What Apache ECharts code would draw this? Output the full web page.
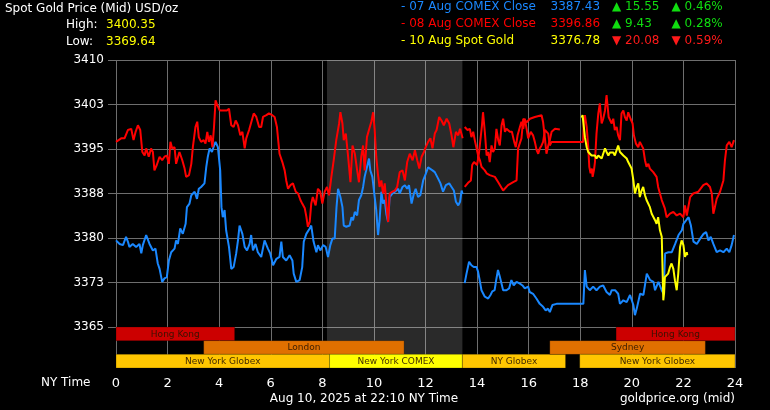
<!DOCTYPE html>
<html><head><meta charset="utf-8">
<script src="https://cdn.jsdelivr.net/npm/echarts@6/dist/echarts.min.js"></script>
<style>html,body{margin:0;padding:0;background:#000}#c{width:770px;height:410px}</style>
</head><body><div id="c"></div>
<script>
// ---------- data ----------
const xTicks = [0,2,4,6,8,10,12,14,16,18,20,22,24];
const yTicks = [3365,3372.5,3380,3387.5,3395,3402.5,3410];

const blue07a = [[0,3379.6],[0.14,3379.0],[0.27,3378.8],[0.39,3380.2],[0.46,3379.4],[0.52,3378.5],[0.65,3379.0],[0.78,3378.5],[0.91,3379.0],[0.98,3377.4],[1.04,3378.8],[1.17,3380.5],[1.30,3379.0],[1.43,3377.9],[1.53,3378.2],[1.62,3375.7],[1.69,3374.8],[1.79,3372.6],[1.88,3373.2],[1.97,3373.4],[2.05,3376.2],[2.14,3377.6],[2.27,3378.2],[2.33,3379.6],[2.40,3379.0],[2.49,3381.6],[2.59,3380.7],[2.70,3382.4],[2.75,3385.2],[2.85,3385.8],[2.92,3387.2],[3.05,3387.8],[3.14,3386.6],[3.21,3388.3],[3.30,3388.6],[3.43,3389.2],[3.50,3392.0],[3.56,3393.7],[3.63,3395.1],[3.72,3394.5],[3.78,3395.3],[3.86,3396.2],[3.95,3395.3],[4.04,3391.4],[4.09,3385.2],[4.14,3383.5],[4.21,3384.7],[4.27,3381.3],[4.38,3378.5],[4.47,3374.8],[4.56,3375.1],[4.66,3377.4],[4.73,3379.6],[4.79,3382.1],[4.90,3380.7],[4.99,3378.5],[5.08,3377.9],[5.18,3379.0],[5.24,3380.5],[5.31,3377.9],[5.41,3379.0],[5.50,3377.6],[5.63,3376.8],[5.76,3379.6],[5.89,3378.2],[5.98,3377.4],[6.09,3375.4],[6.22,3376.5],[6.34,3376.8],[6.41,3379.4],[6.47,3376.8],[6.60,3376.2],[6.73,3377.1],[6.84,3376.2],[6.89,3374.0],[6.99,3372.6],[7.12,3372.9],[7.22,3375.1],[7.28,3379.4],[7.38,3380.7],[7.51,3381.6],[7.57,3382.1],[7.66,3379.4],[7.77,3377.6],[7.83,3378.8],[7.92,3377.9],[8.03,3378.8],[8.13,3378.5],[8.22,3376.8],[8.31,3378.8],[8.39,3379.9],[8.48,3379.9],[8.55,3385.2],[8.61,3388.3],[8.70,3386.9],[8.78,3385.2],[8.83,3382.1],[8.93,3381.9],[9.06,3382.1],[9.13,3383.5],[9.19,3383.0],[9.26,3384.4],[9.35,3383.8],[9.42,3386.4],[9.51,3387.2],[9.58,3388.6],[9.64,3390.3],[9.71,3390.6],[9.81,3393.4],[9.86,3391.4],[9.94,3390.3],[10.03,3386.9],[10.09,3384.7],[10.16,3380.5],[10.22,3383.0],[10.29,3387.8],[10.35,3385.8],[10.42,3386.4],[10.48,3384.1],[10.55,3382.7],[10.61,3386.9],[10.72,3387.5],[10.81,3387.8],[10.94,3388.3],[11.00,3387.5],[11.11,3388.6],[11.20,3388.9],[11.29,3388.3],[11.36,3388.9],[11.46,3385.8],[11.55,3387.5],[11.62,3388.3],[11.71,3386.9],[11.80,3387.2],[11.91,3389.7],[12.01,3390.8],[12.10,3391.9],[12.17,3392.2],[12.27,3391.4],[12.36,3391.1],[12.49,3390.0],[12.58,3389.2],[12.68,3387.8],[12.79,3388.9],[12.92,3389.2],[13.01,3388.6],[13.10,3388.0],[13.18,3386.1],[13.27,3385.5],[13.34,3386.1],[13.40,3388.0],[13.44,3387.4]];

const blue07b = [[13.52,3372.4],[13.59,3374.0],[13.69,3376.0],[13.78,3375.4],[13.87,3375.1],[13.98,3375.1],[14.04,3374.3],[14.10,3372.9],[14.17,3371.2],[14.30,3370.1],[14.43,3369.8],[14.52,3370.4],[14.59,3371.0],[14.68,3371.2],[14.74,3372.9],[14.81,3374.6],[14.88,3373.5],[14.94,3373.2],[15.01,3371.2],[15.14,3371.2],[15.24,3371.5],[15.33,3372.9],[15.42,3372.0],[15.53,3372.6],[15.66,3372.3],[15.76,3372.0],[15.85,3371.5],[15.98,3371.8],[16.04,3370.9],[16.17,3370.6],[16.30,3369.8],[16.43,3368.9],[16.56,3368.4],[16.66,3367.8],[16.75,3368.1],[16.82,3367.5],[16.92,3368.7],[17.08,3368.9],[18.12,3368.9],[18.18,3374.6],[18.25,3371.8],[18.37,3371.2],[18.50,3371.8],[18.63,3371.2],[18.76,3371.8],[18.89,3372.0],[19.02,3370.9],[19.15,3370.4],[19.22,3371.2],[19.35,3371.2],[19.47,3370.6],[19.54,3368.9],[19.67,3369.5],[19.80,3369.2],[19.93,3370.4],[20.06,3368.7],[20.12,3367.0],[20.19,3368.1],[20.32,3370.6],[20.45,3370.4],[20.58,3374.0],[20.71,3372.9],[20.84,3372.6],[20.90,3371.2],[21.03,3372.6],[21.16,3371.2],[21.23,3370.6],[21.29,3377.4],[21.42,3377.6],[21.55,3377.6],[21.68,3379.0],[21.81,3380.5],[21.94,3381.3],[22.00,3382.4],[22.11,3383.0],[22.20,3383.5],[22.29,3382.1],[22.39,3379.4],[22.52,3379.0],[22.65,3379.9],[22.78,3380.7],[22.88,3381.0],[22.97,3379.6],[23.06,3380.2],[23.16,3379.0],[23.29,3377.6],[23.42,3377.9],[23.55,3377.6],[23.68,3378.2],[23.78,3377.6],[23.87,3378.8],[23.96,3380.5]];

const red08a = [[0,3396.2],[0.07,3396.5],[0.20,3396.8],[0.33,3396.8],[0.46,3398.2],[0.59,3398.4],[0.68,3396.5],[0.76,3397.9],[0.85,3399.0],[0.94,3398.2],[1.02,3394.5],[1.11,3393.9],[1.17,3395.1],[1.27,3393.7],[1.36,3395.1],[1.43,3394.5],[1.49,3391.4],[1.58,3392.3],[1.69,3393.7],[1.79,3393.1],[1.88,3393.7],[1.97,3393.9],[2.05,3392.5],[2.11,3396.2],[2.18,3395.1],[2.27,3395.3],[2.33,3392.5],[2.46,3394.5],[2.57,3393.1],[2.66,3391.7],[2.72,3390.3],[2.83,3390.6],[2.92,3392.5],[2.98,3395.3],[3.08,3398.7],[3.15,3399.6],[3.21,3397.0],[3.30,3396.2],[3.40,3396.5],[3.47,3395.9],[3.54,3397.9],[3.60,3396.2],[3.67,3397.3],[3.74,3395.3],[3.80,3398.7],[3.86,3403.2],[3.91,3402.6],[4.02,3401.5],[4.15,3401.5],[4.30,3401.5],[4.38,3401.8],[4.47,3399.0],[4.56,3398.7],[4.64,3399.8],[4.73,3399.0],[4.82,3397.3],[4.90,3397.9],[4.99,3395.1],[5.05,3396.8],[5.16,3398.2],[5.25,3399.6],[5.34,3401.0],[5.44,3400.4],[5.55,3398.7],[5.63,3398.7],[5.70,3400.4],[5.83,3400.7],[5.93,3401.0],[6.06,3400.7],[6.15,3400.4],[6.24,3398.7],[6.34,3394.2],[6.45,3392.8],[6.54,3391.4],[6.60,3389.7],[6.67,3388.3],[6.76,3388.9],[6.86,3389.2],[6.97,3387.8],[7.06,3387.5],[7.15,3386.4],[7.22,3385.8],[7.32,3385.0],[7.38,3383.6],[7.44,3381.9],[7.51,3382.7],[7.57,3385.8],[7.63,3386.9],[7.74,3385.5],[7.83,3388.3],[7.92,3387.8],[8.00,3385.8],[8.09,3387.8],[8.18,3388.6],[8.26,3387.2],[8.35,3390.3],[8.44,3393.1],[8.54,3396.5],[8.65,3399.3],[8.70,3401.2],[8.78,3399.3],[8.83,3396.5],[8.91,3397.6],[9.00,3393.7],[9.09,3389.4],[9.17,3395.6],[9.26,3394.2],[9.35,3391.4],[9.42,3389.4],[9.51,3393.7],[9.58,3395.6],[9.64,3391.4],[9.73,3397.0],[9.84,3398.7],[9.90,3399.6],[9.97,3401.2],[10.03,3398.2],[10.09,3393.7],[10.16,3390.6],[10.22,3388.6],[10.29,3389.7],[10.35,3387.5],[10.42,3389.2],[10.48,3385.8],[10.55,3382.7],[10.61,3387.5],[10.72,3387.8],[10.81,3388.0],[10.90,3388.6],[11.00,3391.1],[11.11,3391.4],[11.20,3389.7],[11.29,3392.8],[11.39,3394.2],[11.50,3393.1],[11.59,3394.8],[11.68,3393.1],[11.76,3391.7],[11.85,3393.7],[11.94,3394.5],[12.01,3395.3],[12.10,3396.2],[12.19,3396.8],[12.27,3395.1],[12.36,3397.6],[12.43,3398.2],[12.53,3400.4],[12.62,3399.8],[12.71,3399.0],[12.82,3400.1],[12.92,3399.3],[13.01,3397.3],[13.08,3395.3],[13.18,3397.9],[13.27,3397.3],[13.34,3398.4],[13.44,3396.8]];

const red08b = [[13.52,3388.6],[13.65,3389.3],[13.76,3389.7],[13.81,3392.3],[13.88,3392.8],[13.94,3392.9],[14.00,3392.3],[14.07,3394.2],[14.14,3394.5],[14.19,3399.0],[14.23,3401.2],[14.30,3397.9],[14.37,3393.9],[14.43,3394.5],[14.49,3392.8],[14.56,3395.6],[14.62,3394.5],[14.69,3395.1],[14.75,3398.4],[14.82,3396.5],[14.88,3395.6],[14.95,3399.0],[15.01,3400.1],[15.08,3397.9],[15.14,3398.4],[15.20,3398.4],[15.27,3397.9],[15.35,3397.9],[15.44,3396.2],[15.50,3395.3],[15.57,3397.3],[15.66,3398.7],[15.72,3399.6],[15.79,3398.4],[15.85,3400.1],[15.92,3398.4],[15.98,3396.8],[16.08,3397.9],[16.17,3397.3],[16.24,3396.2],[16.31,3394.8],[16.37,3394.2],[16.43,3395.1],[16.50,3395.6],[16.56,3396.2],[16.63,3398.2],[16.69,3398.4],[16.76,3397.6],[16.82,3395.6],[16.89,3396.2],[16.99,3396.2],[18.11,3396.2],[18.14,3399.8],[18.18,3400.7],[18.25,3398.7],[18.31,3395.3],[18.35,3392.0],[18.40,3390.9],[18.45,3391.7],[18.48,3390.3],[18.53,3391.4],[18.57,3392.8],[18.63,3397.6],[18.70,3401.0],[18.76,3402.7],[18.83,3399.3],[18.89,3400.1],[18.96,3401.5],[19.02,3404.1],[19.06,3404.1],[19.10,3400.4],[19.15,3400.7],[19.22,3399.3],[19.28,3400.1],[19.34,3398.2],[19.41,3398.7],[19.47,3397.3],[19.54,3396.5],[19.60,3401.0],[19.67,3401.5],[19.73,3400.4],[19.80,3399.8],[19.86,3401.2],[19.95,3400.1],[20.03,3399.3],[20.08,3397.3],[20.16,3395.9],[20.25,3395.3],[20.31,3396.2],[20.38,3395.9],[20.44,3395.1],[20.51,3393.1],[20.57,3392.0],[20.64,3392.5],[20.70,3391.7],[20.83,3391.1],[20.96,3390.3],[21.02,3388.6],[21.16,3386.4],[21.28,3385.0],[21.35,3383.5],[21.48,3384.1],[21.61,3384.4],[21.74,3383.8],[21.87,3384.1],[22.00,3383.5],[22.06,3385.5],[22.13,3383.8],[22.26,3386.9],[22.38,3387.5],[22.58,3387.8],[22.77,3388.9],[22.90,3389.2],[23.03,3388.6],[23.10,3387.5],[23.16,3384.1],[23.22,3385.2],[23.29,3386.6],[23.42,3387.8],[23.55,3389.7],[23.61,3393.1],[23.68,3395.6],[23.78,3396.2],[23.87,3395.3],[23.96,3396.5]];

const red08c = [[13.52,3398.7],[13.63,3398.2],[13.72,3398.4],[13.78,3397.0],[13.85,3397.9],[13.91,3396.5],[13.98,3395.1],[14.04,3393.9],[14.11,3393.1],[14.17,3392.0],[14.23,3392.3],[14.30,3391.4],[14.37,3390.9],[14.43,3391.1],[14.49,3390.6],[14.56,3390.6],[14.69,3390.3],[14.82,3389.4],[15.01,3388.0],[15.20,3388.9],[15.40,3389.4],[15.53,3389.7],[15.59,3395.1],[15.72,3396.8],[15.79,3400.1],[15.92,3399.5],[16.05,3400.1],[16.24,3400.4],[16.50,3400.7],[16.56,3399.5],[16.63,3396.8],[16.69,3394.2],[16.76,3395.6],[16.82,3396.5],[16.89,3397.9],[17.02,3398.4],[17.21,3398.3]];

const spot10 = [[18.05,3400.3],[18.09,3400.7],[18.14,3398.7],[18.18,3397.0],[18.25,3395.3],[18.31,3394.5],[18.37,3394.4],[18.44,3393.9],[18.50,3393.7],[18.57,3393.9],[18.63,3393.4],[18.70,3393.9],[18.76,3393.7],[18.83,3393.4],[18.89,3394.2],[18.96,3395.1],[19.02,3394.5],[19.09,3393.9],[19.15,3394.4],[19.22,3394.2],[19.28,3394.4],[19.34,3393.9],[19.41,3394.8],[19.47,3395.6],[19.54,3394.5],[19.60,3394.2],[19.67,3393.9],[19.73,3393.7],[19.80,3393.4],[19.86,3392.8],[19.93,3392.5],[19.99,3391.7],[20.06,3389.7],[20.12,3387.5],[20.19,3388.6],[20.25,3389.2],[20.31,3386.9],[20.38,3388.0],[20.44,3388.6],[20.51,3387.2],[20.57,3386.4],[20.70,3385.2],[20.77,3384.1],[20.83,3384.1],[20.90,3383.0],[20.96,3382.4],[21.02,3383.5],[21.09,3381.3],[21.16,3380.2],[21.22,3369.5],[21.25,3370.7],[21.28,3373.4],[21.35,3373.2],[21.41,3374.0],[21.48,3375.1],[21.54,3375.7],[21.61,3374.8],[21.67,3372.9],[21.74,3371.2],[21.80,3374.0],[21.87,3378.5],[21.93,3379.6],[22.00,3378.8],[22.06,3376.8],[22.13,3377.6],[22.15,3377.1]];

const shadeRange = [8.18, 13.43];

const sessionRows = ['Hong Kong / Sydney row','London row','New York row'];
const sessionNames = ['Hong Kong','London','New York Globex','New York COMEX','NY Globex','Sydney','New York Globex','Hong Kong'];
const sessionStart = [0, 3.4, 0, 8.28, 13.43, 16.82, 17.98, 19.39];
const sessionEnd   = [4.6, 11.17, 8.28, 13.43, 17.43, 22.85, 24, 24];
const sessionRow   = [0, 1, 2, 2, 2, 1, 2, 0];
const sessionKind  = ['hk','eu','globex','comex','globex','eu','globex','hk'];

const legendNames   = ['07 Aug COMEX Close','08 Aug COMEX Close','10 Aug Spot Gold'];
const legendValues  = ['3387.43','3396.86','3376.78'];
const legendChanges = ['15.55','9.43','20.08'];
const legendPcts    = ['0.46%','0.28%','0.59%'];
const legendUp      = [true, true, false];
const highLow       = ['3400.35','3369.64'];

// ---------- styles ----------
const FONT = 'DejaVu Sans';
const GRID = '#6e6e6e';
const BLUE = '#1a88ff', RED = '#ff0000', YEL = '#ffff00';
const kindColor = {hk:'#cc0000', eu:'#e07000', globex:'#ffc600', comex:'#ffff00'};
const lineColors = [BLUE, RED, YEL];

const chart = echarts.init(document.getElementById('c'), null, {renderer:'canvas'});

function txt(x, y, text, fill, align, size) {
  return {type:'text', x:x, y:y, silent:true,
    style:{text:text, fill:fill, fontSize:size||12, fontFamily:FONT,
      textAlign:align||'left', textVerticalAlign:'middle', align:align||'left', verticalAlign:'middle'}};
}

const graphics = [
  txt(5, 8.5, 'Spot Gold Price (Mid) USD/oz', '#ffffff'),
  txt(66, 25, 'High:', '#ffffff'),
  txt(106, 25, highLow[0], YEL),
  txt(66, 42, 'Low:', '#ffffff'),
  txt(106, 42, highLow[1], YEL),
  txt(41, 383, 'NY Time', '#ffffff'),
  txt(364, 398.5, 'Aug 10, 2025 at 22:10 NY Time', '#ffffff', 'center'),
  txt(735, 398.5, 'goldprice.org (mid)', '#ffffff', 'right')
];
const rowY = [7, 24, 41];
legendNames.forEach((n, i) => {
  const chColor = legendUp[i] ? '#10dd10' : '#ff1a1a';
  const arrow = legendUp[i] ? '\u25B2 ' : '\u25BC ';
  graphics.push(txt(401, rowY[i], '- ' + n, lineColors[i]));
  graphics.push(txt(550.5, rowY[i], legendValues[i], lineColors[i]));
  graphics.push(txt(612, rowY[i], arrow + legendChanges[i], chColor));
  graphics.push(txt(671.5, rowY[i], arrow + legendPcts[i], chColor));
});

function shadeItem(params, api) {
  const a = api.coord([api.value(0), api.value(2)]);
  const b = api.coord([api.value(1), api.value(2)]);
  const cs = params.coordSys;
  return {type:'rect', shape:{x:a[0], y:cs.y, width:b[0]-a[0], height:cs.height},
    style:{fill:'rgba(255,255,255,0.165)'}};
}

function sessionItem(params, api) {
  const s = api.coord([api.value(0), api.value(2)]);
  const e = api.coord([api.value(1), api.value(2)]);
  const h = api.size([0, 1])[1];
  const i = params.dataIndex;
  const c = kindColor[sessionKind[i]];
  return {type:'group', children:[
    {type:'rect', shape:{x:s[0], y:s[1]-h/2, width:e[0]-s[0], height:h},
      style:{fill:c, stroke:'rgba(0,0,0,0.22)', lineWidth:1}},
    {type:'text', x:(s[0]+e[0])/2, y:s[1]+0.5,
      style:{text:sessionNames[i], fill:'rgba(40,20,0,0.9)', fontSize:9, fontFamily:FONT,
        textAlign:'center', textVerticalAlign:'middle', align:'center', verticalAlign:'middle'}}
  ]};
}

function lineSeries(data, color, z) {
  return {type:'line', xAxisIndex:0, yAxisIndex:0, data:data, showSymbol:false, symbol:'none',
    lineStyle:{color:color, width:2}, itemStyle:{color:color}, z:z, animation:false, silent:true, clip:true};
}

const option = {
  backgroundColor:'#000000',
  animation:false,
  grid:[
    {left:116, top:60, width:619, height:267, containLabel:false},
    {left:116, top:327, width:619, height:41, containLabel:false}
  ],
  xAxis:[
    {gridIndex:0, type:'value', min:0, max:24, interval:2,
      axisLine:{show:false}, axisTick:{show:false}, axisLabel:{show:false},
      splitLine:{show:true, lineStyle:{color:GRID, width:1}}},
    {gridIndex:1, type:'value', min:0, max:24, interval:2,
      axisLine:{show:false}, axisTick:{show:false},
      axisLabel:{show:true, color:'#ffffff', fontSize:13, fontFamily:FONT, margin:9,
        formatter:v => xTicks.indexOf(v) >= 0 ? String(v) : ''},
      splitLine:{show:true, lineStyle:{color:GRID, width:1}}}
  ],
  yAxis:[
    {gridIndex:0, type:'value', min:3365, max:3410, interval:7.5,
      axisLine:{show:false},
      axisTick:{show:true, length:8, lineStyle:{color:GRID}},
      axisLabel:{color:'#ffffff', fontSize:12, fontFamily:FONT, margin:12,
        formatter:v => String(Math.round(yTicks[yTicks.indexOf(v)] !== undefined ? v : v))},
      splitLine:{show:true, lineStyle:{color:GRID, width:1}}},
    {gridIndex:1, type:'category', data:sessionRows, inverse:true,
      axisLine:{show:false}, axisTick:{show:false}, axisLabel:{show:false}, splitLine:{show:false}}
  ],
  graphic:{elements:graphics},
  series:[
    {type:'custom', xAxisIndex:0, yAxisIndex:0, z:1, silent:true, renderItem:shadeItem,
      data:[[shadeRange[0], shadeRange[1], 3365]], encode:{x:[0,1], y:2}},
    {type:'custom', xAxisIndex:1, yAxisIndex:1, z:1, silent:true, renderItem:shadeItem,
      data:[[shadeRange[0], shadeRange[1], 0]], encode:{x:[0,1], y:2}},
    {type:'custom', xAxisIndex:1, yAxisIndex:1, z:3, silent:true, renderItem:sessionItem,
      data:sessionNames.map((n, i) => [sessionStart[i], sessionEnd[i], sessionRow[i]]),
      encode:{x:[0,1], y:2}},
    lineSeries(blue07a, BLUE, 4),
    lineSeries(blue07b, BLUE, 4),
    lineSeries(red08a, RED, 5),
    lineSeries(red08c, RED, 5),
    lineSeries(red08b, RED, 5),
    lineSeries(spot10, YEL, 6)
  ]
};
chart.setOption(option);
</script>
</body></html>
